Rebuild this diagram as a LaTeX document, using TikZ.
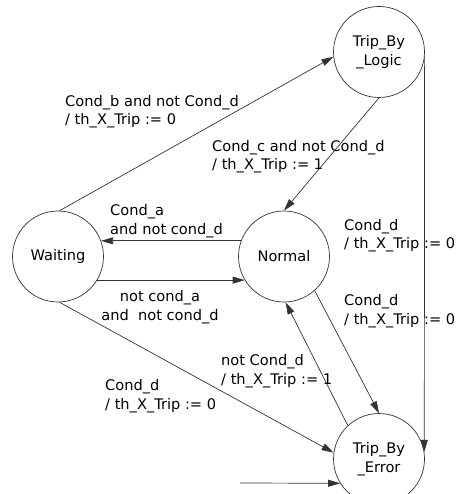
\documentclass[tikz,border=0pt]{standalone}
\usepackage{fontspec}
\setmainfont{DejaVu Sans}
\usepackage{tikz}
\usetikzlibrary{arrows.meta}
\tikzstyle{state} = [circle, draw=black!80, line width=0.7pt, minimum size=91pt, inner sep=0pt, align=center]
\tikzstyle{trans} = [draw=black!80, line width=0.7pt, -{Triangle[length=12pt,width=7pt]}]
\tikzstyle{lbl} = [inner sep=0pt, anchor=west, align=left]

\begin{document}
\begin{tikzpicture}[x=1pt, y=-1pt, font=\fontsize{14.6}{18.5}\selectfont, text=black]
\useasboundingbox (0,0) rectangle (458,494);

% states
\node[state] (wait) at (58,256.5) {Waiting};
\node[state] (norm) at (284,256.5) {Normal};
\node[state] (logic) at (379,52) {Trip\_By\\\_Logic};
\node[state] (err) at (379,459) {Trip\_By\\\_Error};
\coordinate (init) at (240,483);

% transitions
\draw[trans] (wait.88) -- (logic.186);
\draw[trans] (logic.south) -- (norm.north);
\draw[trans] (norm.160) -- (wait.20);
\draw[trans] (wait.-31) -- (norm.-149);
\draw[trans] (logic.-6) -- (err.9);
\draw[trans] (norm.-48) -- (err.north);
\draw[trans] (err.133) -- (norm.-88);
\draw[trans] (wait.-88) -- (err.172);
\draw[trans] (init) -- (err.212);

% guards
\node[lbl] (lwl) at (65,111.5) {Cond\_b and not Cond\_d\\/ th\_X\_Trip := 0};
\node[lbl] (lln) at (212,156.5) {Cond\_c and not Cond\_d\\/ th\_X\_Trip := 1};
\node[lbl] (lnw) at (110,221) {Cond\_a\\and not cond\_d};
\node[inner sep=0pt, align=center] (lwn) at (160,307) {not cond\_a\\and\ \ not cond\_d};
\node[lbl] (lle) at (344,235.5) {Cond\_d\\/ th\_X\_Trip := 0};
\node[lbl] (lne) at (344,311) {Cond\_d\\/ th\_X\_Trip := 0};
\node[lbl] (len) at (221,371) {not Cond\_d\\/ th\_X\_Trip := 1};
\node[lbl] (lwe) at (105,396) {Cond\_d\\/ th\_X\_Trip := 0};
\end{tikzpicture}
\end{document}
